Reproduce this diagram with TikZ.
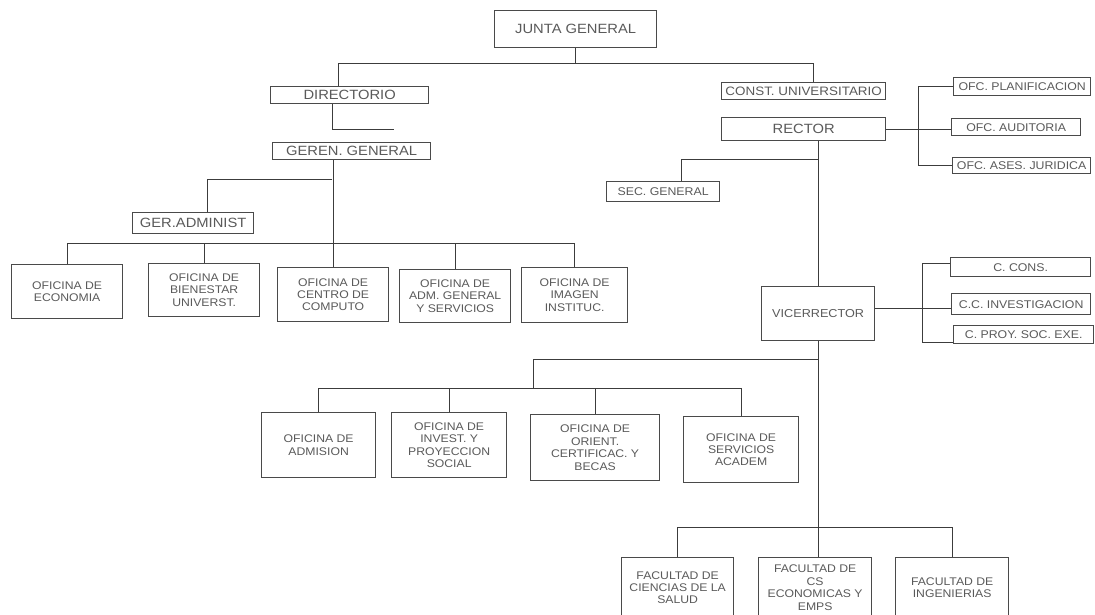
\documentclass[tikz,border=0pt]{standalone}
\usepackage{fontspec}
\setmainfont{Liberation Sans}[FakeStretch=1.1]
\definecolor{boxgray}{HTML}{4A4A4A}
\definecolor{txtgray}{HTML}{5A5A5A}
\definecolor{linegray}{HTML}{3C3C3C}
\begin{document}
\begin{tikzpicture}[x=1pt,y=-1pt,
  box/.style={draw=boxgray, line width=1.3pt, fill=white, inner sep=0pt,
    anchor=north west, text=txtgray, align=center},
  big/.style={box, font=\fontsize{13.4}{15}\selectfont},
  med/.style={box, font=\fontsize{12.2}{14}\selectfont},
  small/.style={box, font=\fontsize{11.2}{13}\selectfont},
  office/.style={box, font=\fontsize{11.1}{12.4}\selectfont},
  link/.style={draw=linegray, line width=1pt}]
\useasboundingbox (0,0) rectangle (1095,614);
\fill[white] (0,0) rectangle (1095,614);
\clip (0,0) rectangle (1095,614);

% governing bodies
\node[big, minimum width=162pt, minimum height=37pt] (jg) at (494,10) {JUNTA GENERAL};
\node[big, minimum width=158pt, minimum height=17pt] (dir) at (270,86) {DIRECTORIO};
\node[big, minimum width=158pt, minimum height=17pt] (gg) at (272,142) {GEREN. GENERAL};
\node[big, minimum width=121pt, minimum height=21pt] (ga) at (132,212) {GER.ADMINIST};
\node[med, minimum width=164pt, minimum height=17pt] (cu) at (721,82) {CONST. UNIVERSITARIO};
\node[big, minimum width=164pt, minimum height=23pt] (rec) at (721,117) {RECTOR};

% rector's staff offices
\node[small, minimum width=137pt, minimum height=18pt] (planif) at (953,77) {OFC. PLANIFICACION};
\node[small, minimum width=129pt, minimum height=17pt] (audit) at (951,118) {OFC. AUDITORIA};
\node[small, minimum width=138pt, minimum height=16pt] (ases) at (952,157) {OFC. ASES. JURIDICA};
\node[small, minimum width=113pt, minimum height=20pt] (sec) at (606,181) {SEC. GENERAL};

% vice-rector and councils
\node[office, font=\fontsize{11.5}{13}\selectfont, minimum width=113pt, minimum height=54pt] (vice) at (761,286) {VICERRECTOR};
\node[small, minimum width=140pt, minimum height=19pt] (ccons) at (950,257) {C. CONS.};
\node[small, minimum width=139pt, minimum height=21pt] (cinv) at (951,293) {C.C. INVESTIGACION};
\node[small, minimum width=140pt, minimum height=18pt] (cproy) at (953,325) {C. PROY. SOC. EXE.};

% administrative offices
\node[office, minimum width=111pt, minimum height=54pt] (eco) at (11,264) {OFICINA DE\\ECONOMIA};
\node[office, minimum width=111pt, minimum height=53pt] (bien) at (148,263) {OFICINA DE\\BIENESTAR\\UNIVERST.};
\node[office, minimum width=111pt, minimum height=54pt] (cent) at (277,267) {OFICINA DE\\CENTRO DE\\COMPUTO};
\node[office, minimum width=111pt, minimum height=53pt] (adm) at (399,269) {OFICINA DE\\ADM. GENERAL\\Y SERVICIOS};
\node[office, minimum width=106pt, minimum height=55pt] (img) at (521,267) {OFICINA DE\\IMAGEN\\INSTITUC.};

% academic offices
\node[office, minimum width=114pt, minimum height=65pt] (admis) at (261,412) {OFICINA DE\\ADMISION};
\node[office, minimum width=115pt, minimum height=65pt] (inv) at (391,412) {OFICINA DE\\INVEST. Y\\PROYECCION\\SOCIAL};
\node[office, minimum width=129pt, minimum height=66pt] (ori) at (530,414) {OFICINA DE\\ORIENT.\\CERTIFICAC. Y\\BECAS};
\node[office, minimum width=115pt, minimum height=66pt] (serv) at (683,416) {OFICINA DE\\SERVICIOS\\ACADEM};

% faculties
\node[office, minimum width=112pt, minimum height=60pt] (fsal) at (621,557) {FACULTAD DE\\CIENCIAS DE LA\\SALUD};
\node[office, minimum width=113pt, minimum height=60pt] (fecon) at (758,557) {FACULTAD DE\\CS\\ECONOMICAS Y\\EMPS};
\node[office, minimum width=113pt, minimum height=60pt] (fing) at (895,557) {FACULTAD DE\\INGENIERIAS};

% top level bus
\coordinate (busA) at (0,63);
\coordinate (dL) at (338,63);
\coordinate (cR) at (813,63);
\draw[link] (jg.south) -- (jg.south |- busA);
\draw[link] (dL) -- (cR);
\draw[link] (dL) -- (dL |- dir.north);
\draw[link] (cR) -- (cR |- cu.north);

% directorio stub
\coordinate (dcol) at (332,0);
\coordinate (dstub) at (394,129);
\draw[link] (dir.south -| dcol) |- (dstub);

% gerencia branch
\coordinate (obus) at (0,243);
\coordinate (gaj) at (332,179);
\coordinate (gacol) at (207,0);
\draw[link] (gg.south -| cent.north) -- (cent.north);
\draw[link] (gaj) -| (ga.north -| gacol);
\draw[link] (eco.north |- obus) -- (img.north |- obus);
\foreach \n in {eco,bien,adm,img}
  \draw[link] (\n.north |- obus) -- (\n.north);

% rector branch
\coordinate (sj) at (0,159);
\coordinate (seccol) at (681,0);
\draw[link] (rec.south -| vice.north) -- (vice.north);
\draw[link] (vice.north |- sj) -| (sec.north -| seccol);
\coordinate (rbr) at (918,0);
\draw[link] (rec.east) -- (rec.east -| audit.west);
\draw[link] (planif.west) -- (planif.west -| rbr) -- (ases.west -| rbr) -- (ases.west);

% vice-rector councils
\coordinate (vbr) at (922,308);
\coordinate (vtop) at (922,263);
\coordinate (vbot) at (922,342);
\draw[link] (vice.east |- vbr) -- (cinv.west |- vbr);
\draw[link] (ccons.west |- vtop) -- (vtop) -- (vbot) -- (cproy.west |- vbot);

% vice-rector down to offices and faculties
\coordinate (abus1) at (0,359);
\coordinate (abus2) at (0,388);
\coordinate (acol) at (533,0);
\coordinate (fbus) at (0,527);
\draw[link] (vice.south) -- (vice.south |- fecon.north);
\draw[link] (vice.south |- abus1) -- (acol |- abus1) -- (acol |- abus2);
\draw[link] (admis.north |- abus2) -- (serv.north |- abus2);
\foreach \n in {admis,inv,ori,serv}
  \draw[link] (\n.north |- abus2) -- (\n.north);
\draw[link] (fsal.north |- fbus) -- (fing.north |- fbus);
\foreach \n in {fsal,fing}
  \draw[link] (\n.north |- fbus) -- (\n.north);
\end{tikzpicture}
\end{document}
